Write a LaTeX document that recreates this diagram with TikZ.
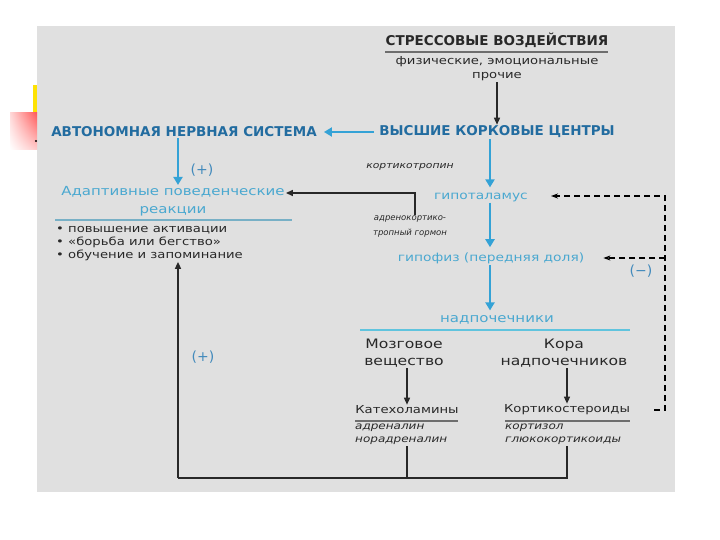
\documentclass[tikz,border=0pt]{standalone}
\usepackage{fontspec}
\setmainfont{DejaVu Sans}
\newfontfamily\widesans[FakeStretch=1.2]{DejaVu Sans}
\usepackage{xcolor}
\usepackage{tikz}
\usetikzlibrary{arrows.meta,positioning,calc,shadings}
\definecolor{bgray}    {RGB}{224,224,224}
\definecolor{capblue}  {RGB}{34,108,160}
\definecolor{txtblue}  {RGB}{74,168,208}
\definecolor{arrblue}  {RGB}{52,162,214}
\definecolor{sgnblue}  {RGB}{66,138,188}
\definecolor{inkgray}  {RGB}{40,40,40}
\definecolor{rulegray} {RGB}{110,110,110}
\definecolor{ruleblue} {RGB}{120,176,198}
\definecolor{rulecyan} {RGB}{96,196,222}
\tikzset{
  captxt/.style ={inner sep=1pt, font=\bfseries\fontsize{13.5}{15}\selectfont},
  capblu/.style ={captxt, text=capblue},
  lbl/.style    ={inner sep=1pt, text=txtblue, align=center,
                  font=\widesans\fontsize{11.5}{13}\selectfont},
  gtxt/.style   ={inner sep=1pt, text=inkgray, align=center,
                  font=\widesans\fontsize{13}{17}\selectfont},
  stxt/.style   ={inner sep=1pt, text=inkgray, align=left,
                  font=\widesans\fontsize{11}{13}\selectfont},
  itxt/.style   ={inner sep=1pt, text=inkgray, align=left,
                  font=\widesans\itshape\fontsize{10}{13}\selectfont},
  sign/.style   ={inner sep=1pt, text=sgnblue,
                  font=\fontsize{14}{15}\selectfont},
  barr/.style   ={-{Triangle[length=8pt,width=9pt]}, draw=arrblue,
                  line width=2.8pt},
  karr/.style   ={-{Triangle[length=7pt,width=6pt]}, draw=inkgray,
                  line width=1.4pt},
  kline/.style  ={draw=inkgray, line width=2pt},
  darr/.style   ={-{Stealth[length=7pt,width=5pt]}, draw=black,
                  line width=1.6pt, dash pattern=on 6pt off 4pt},
}
\begin{document}
\begin{tikzpicture}[x=1pt,y=-1pt]
  \useasboundingbox (0,0) rectangle (720,540);
  \fill[bgray] (37,26) rectangle (675,492);
  % slide corner marks
  \fill[yellow!85!orange] (33,85) rectangle (37,116);
  \shade[upper left=red!15, upper right=red!65, lower left=white,
         lower right=red!20] (10,113) rectangle (37,150);
  \fill[black] (36,141) circle (1.2);

  \node[captxt, text=inkgray] (st) at (497,40) {СТРЕССОВЫЕ ВОЗДЕЙСТВИЯ};
  \draw[rulegray, line width=1.2pt] (385,52) -- (608,52);
  \node[stxt, align=center, font=\widesans\fontsize{11}{14}\selectfont] (sd) at (497,69)
    {физические, эмоциональные\\прочие};
  \node[capblu] (cc) at (497,132) {ВЫСШИЕ КОРКОВЫЕ ЦЕНТРЫ};
  \node[capblu] (ns) at (184,132) {АВТОНОМНАЯ НЕРВНАЯ СИСТЕМА};
  \node[lbl, font=\widesans\fontsize{12.5}{18}\selectfont] (ad) at (173,201)
    {Адаптивные поведенческие\\реакции};
  \draw[ruleblue, line width=1.2pt] (55,220) -- (292,220);
  \node[stxt, anchor=north west] (bu) at (55,225)
    {• повышение активации\\• «борьба или бегство»\\• обучение и запоминание};
  \node[sign] (p1) at (202,170) {(+)};
  \node[sign] (p2) at (203,357) {(+)};

  \node[itxt, font=\widesans\itshape\fontsize{9}{13}\selectfont] (ct) at (410,167) {кортикотропин};
  \node[lbl] (hy) at (481,197) {гипоталамус};
  \node[itxt, align=center, font=\itshape\fontsize{8.5}{15}\selectfont] (ah) at (410,227)
    {адренокортико-\\тропный гормон};
  \node[lbl] (pi) at (491,258) {гипофиз (передняя доля)};
  \node[sign] (mi) at (641,271) {(−)};
  \node[lbl, font=\widesans\fontsize{12.5}{13}\selectfont] (ag) at (497,320) {надпочечники};
  \draw[rulecyan, line width=1.2pt] (360,330) -- (630,330);

  \node[gtxt] (md) at (404,353) {Мозговое\\вещество};
  \node[gtxt] (kr) at (564,353) {Кора\\надпочечников};
  \node[stxt] (ca) at (407,410) {Катехоламины};
  \node[stxt] (cs) at (567,410) {Кортикостероиды};
  \draw[rulegray, line width=1.2pt] (355,421) -- (458,421);
  \draw[rulegray, line width=1.2pt] (505,421) -- (630,421);
  \node[itxt, anchor=north west] (cas) at (354,423) {адреналин\\норадреналин};
  \node[itxt, anchor=north west] (css) at (504,423) {кортизол\\глюкокортикоиды};

  \coordinate (ax) at (490,0);
  \coordinate (bl) at (178,478);
  \coordinate (fb) at (665,196);

  \draw[karr] (sd.south) -- (cc.north);
  \draw[barr, shorten <=4pt, shorten >=6pt] (cc.west) -- (ns.east);
  \draw[barr] ([xshift=-6pt]ns.south) -- ([xshift=5pt]ad.north);
  \draw[barr, shorten >=4pt] (cc.south -| ax) -- (hy.north -| ax);
  \draw[barr, shorten >=4pt] (hy.south -| ax) -- (pi.north -| ax);
  \draw[barr, shorten >=4pt] (pi.south -| ax) -- (ag.north -| ax);
  \draw[karr] ([xshift=5pt]ah.north) |- ([yshift=8pt]ad.east);
  \draw[karr] ([xshift=3pt]md.south) -- (ca.north);
  \draw[karr] ([xshift=3pt]kr.south) -- (cs.north);
  \draw[kline] (ca |- cas.south) -- (ca |- bl);
  \draw[kline] (cs |- css.south) |- (bl);
  \draw[karr] (bl) -- (bl |- bu.south);
  \draw[darr, shorten >=22pt] ([xshift=23pt]cs.east) -| (fb) -- (hy.east |- fb);
  \draw[darr, shorten >=18pt] (pi.east -| fb) -- (pi.east);
\end{tikzpicture}
\end{document}
